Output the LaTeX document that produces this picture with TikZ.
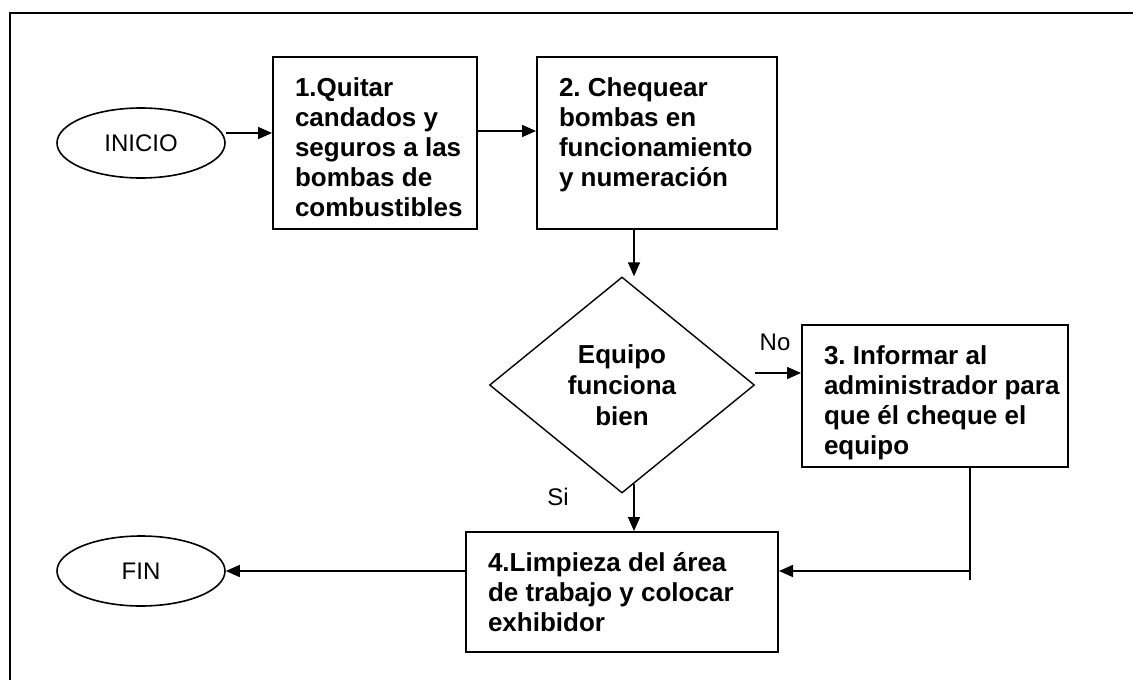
\documentclass[tikz,border=0pt]{standalone}
\usepackage{fontspec}
\setmainfont{Liberation Sans}
\usetikzlibrary{shapes.geometric,arrows.meta,calc}
\frenchspacing

\tikzset{
  paso/.style={draw, line width=1pt, inner xsep=11pt, inner ysep=9pt,
    font=\fontsize{13}{15}\selectfont\bfseries},
  terminal/.style={draw, ellipse, line width=0.8pt, minimum width=84pt,
    minimum height=35pt, inner sep=0pt, font=\fontsize{12}{14}\selectfont},
  decision/.style={draw, diamond, line width=0.7pt, minimum width=132.5pt,
    minimum height=108pt, inner sep=0pt, align=center,
    font=\fontsize{13}{15.5}\selectfont\bfseries},
  flecha/.style={line width=0.8pt, -{Triangle[length=7pt,width=6pt]}},
  linea/.style={line width=0.8pt},
  etiqueta/.style={font=\fontsize{12}{14}\selectfont}
}
% text block of fixed size, set from the top
\newcommand{\caja}[3]{\parbox[c][#2][t]{#1}{\begin{tabular}{@{}l@{}}#3\end{tabular}}}

\begin{document}
\begin{tikzpicture}[x=0.5pt,y=-0.5pt]
    \useasboundingbox (0,0) rectangle (1133,680);
    \draw[line width=1pt] (10,680) -- (10,13) -- (1133,13);

    \node[terminal] (inicio) at (141,143) {INICIO};
    \node[paso] (p1) at (375,143) {\caja{80pt}{68pt}{1.Quitar\\candados y\\seguros a las\\bombas de\\combustibles}};
    \node[paso] (p2) at (657,143) {\caja{98pt}{68pt}{2. Chequear\\bombas en\\funcionamiento\\y numeración}};
    \node[decision] (dec) at (622,385) {Equipo\\funciona\\bien};
    \node[paso] (p3) at (935,396) {\caja{111pt}{53pt}{3. Informar al\\administrador para\\que él cheque el\\equipo}};
    \node[paso] (p4) at (622,592) {\caja{134pt}{42pt}{4.Limpieza del área\\de trabajo y colocar\\exhibidor}};
    \node[terminal] (fin) at (141,571) {FIN};

    \node[etiqueta] (no) at (775,342) {No};
    \node[etiqueta] (si) at (558,497) {Si};

    \draw[flecha] ([yshift=5pt]inicio.east) -- ([yshift=5pt]inicio.east -| p1.west);
    \draw[flecha] ([yshift=6pt]p1.east) -- ([yshift=6pt]p1.east -| p2.west);
    \draw[flecha] ([xshift=-11.5pt]p2.south) -- ([xshift=-11.5pt]p2.south |- dec.north);
    \draw[flecha] ([yshift=6pt]dec.east) -- ([yshift=6pt]dec.east -| p3.west);

    \coordinate (salida) at ($(dec.south)!0.09!(dec.east)$);
    \draw[flecha] (salida) -- (salida |- p4.north);

    % return from step 3 into step 4
    \coordinate (codo) at (970,580);
    \coordinate (llegada) at ([yshift=10.5pt]p4.east);
    \draw[linea] (p3.south -| codo) -- (codo);
    \draw[flecha] (codo |- llegada) -- (llegada);

    \draw[flecha] (p4.west |- fin.east) -- (fin.east);
\end{tikzpicture}
\end{document}
